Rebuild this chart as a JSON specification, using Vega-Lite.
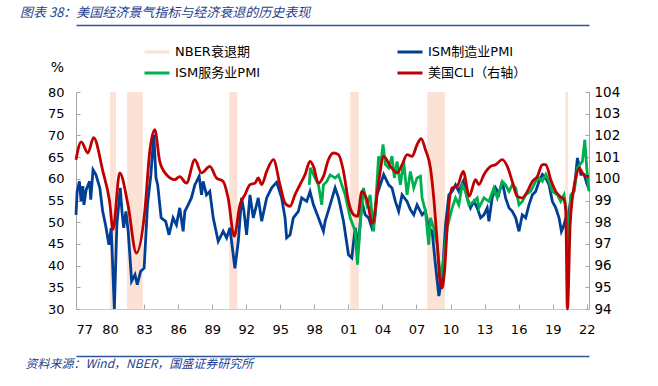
{
  "$schema": "https://vega.github.io/schema/vega-lite/v6.json",
  "width": 513,
  "height": 217,
  "autosize": {"type": "none"},
  "padding": {"left": 76, "top": 92, "right": 69, "bottom": 77},
  "background": "white",
  "config": {
    "view": {"stroke": null},
    "axis": {"grid": false, "labelFont": "DejaVu Sans", "labelFontSize": 13, "labelColor": "#000000", "domainColor": "#a6a6a6", "tickColor": "#a6a6a6", "titleFontWeight": "normal", "labelOverlap": false, "format": "d"},
    "axisX": {"domainColor": "#e3c3b0", "tickSize": -5, "labelPadding": 19, "zindex": 1, "tickCount": 30},
    "axisLeft": {"tickSize": -4, "labelPadding": 16, "tickCount": 20},
    "axisRight": {"tickSize": -4, "labelPadding": 9, "tickCount": 20}
  },
  "title": {
    "text": "图表 38：美国经济景气指标与经济衰退的历史表现",
    "anchor": "start", "frame": "group", "orient": "top",
    "dx": -56, "dy": -5, "offset": 0,
    "font": "Noto Sans CJK SC", "fontSize": 13, "fontStyle": "italic", "fontWeight": "normal", "color": "#1d3f8f"
  },
  "datasets": {
    "rec": [
      {"start": 1980.0, "end": 1980.52, "s": "NBER衰退期"},
      {"start": 1981.5, "end": 1982.88, "s": "NBER衰退期"},
      {"start": 1990.5, "end": 1991.22, "s": "NBER衰退期"},
      {"start": 2001.16, "end": 2001.92, "s": "NBER衰退期"},
      {"start": 2007.95, "end": 2009.5, "s": "NBER衰退期"},
      {"start": 2020.12, "end": 2020.36, "s": "NBER衰退期"}
    ],
    "mfg": [
      {"t": 1977.0, "v": 51.7}, {"t": 1977.1, "v": 57.1}, {"t": 1977.3, "v": 59.4}, {"t": 1977.45, "v": 54.8},
      {"t": 1977.6, "v": 58.3}, {"t": 1977.7, "v": 54.0}, {"t": 1977.9, "v": 57.5}, {"t": 1978.2, "v": 59.4},
      {"t": 1978.3, "v": 55.2}, {"t": 1978.5, "v": 62.1}, {"t": 1978.75, "v": 61.0}, {"t": 1979.1, "v": 57.9},
      {"t": 1979.35, "v": 52.5}, {"t": 1979.6, "v": 49.4}, {"t": 1979.9, "v": 44.8}, {"t": 1980.1, "v": 48.7},
      {"t": 1980.38, "v": 30.0}, {"t": 1980.6, "v": 49.4}, {"t": 1980.9, "v": 57.9}, {"t": 1981.05, "v": 52.5},
      {"t": 1981.2, "v": 48.7}, {"t": 1981.4, "v": 52.5}, {"t": 1981.6, "v": 47.9}, {"t": 1981.9, "v": 36.4},
      {"t": 1982.2, "v": 37.9}, {"t": 1982.4, "v": 35.6}, {"t": 1982.7, "v": 38.7}, {"t": 1983.0, "v": 39.4},
      {"t": 1983.3, "v": 54.0}, {"t": 1983.6, "v": 61.0}, {"t": 1983.85, "v": 70.2}, {"t": 1984.05, "v": 60.2},
      {"t": 1984.2, "v": 58.6}, {"t": 1984.5, "v": 51.0}, {"t": 1984.9, "v": 50.2}, {"t": 1985.2, "v": 47.1},
      {"t": 1985.55, "v": 51.0}, {"t": 1985.85, "v": 49.4}, {"t": 1986.14, "v": 53.3}, {"t": 1986.44, "v": 47.9},
      {"t": 1986.59, "v": 52.5}, {"t": 1986.88, "v": 54.0}, {"t": 1987.17, "v": 55.6}, {"t": 1987.47, "v": 58.6},
      {"t": 1987.85, "v": 60.6}, {"t": 1988.06, "v": 56.3}, {"t": 1988.2, "v": 59.4}, {"t": 1988.5, "v": 56.3},
      {"t": 1988.79, "v": 57.1}, {"t": 1989.09, "v": 51.0}, {"t": 1989.53, "v": 45.6}, {"t": 1989.97, "v": 47.9},
      {"t": 1990.27, "v": 46.4}, {"t": 1990.56, "v": 48.7}, {"t": 1991.0, "v": 39.4}, {"t": 1991.3, "v": 45.6},
      {"t": 1991.59, "v": 55.6}, {"t": 1991.8, "v": 52.5}, {"t": 1992.03, "v": 47.1}, {"t": 1992.33, "v": 56.3},
      {"t": 1992.62, "v": 51.0}, {"t": 1993.06, "v": 55.6}, {"t": 1993.36, "v": 50.2}, {"t": 1993.8, "v": 55.6},
      {"t": 1994.24, "v": 57.9}, {"t": 1994.68, "v": 59.2}, {"t": 1995.12, "v": 55.6}, {"t": 1995.42, "v": 51.0},
      {"t": 1995.56, "v": 46.4}, {"t": 1995.86, "v": 47.1}, {"t": 1996.15, "v": 51.0}, {"t": 1996.59, "v": 52.5},
      {"t": 1996.89, "v": 55.6}, {"t": 1997.33, "v": 54.8}, {"t": 1997.62, "v": 57.1}, {"t": 1997.92, "v": 54.0},
      {"t": 1998.36, "v": 51.0}, {"t": 1998.8, "v": 47.9}, {"t": 1998.95, "v": 50.2}, {"t": 1999.39, "v": 54.0},
      {"t": 1999.83, "v": 57.9}, {"t": 2000.13, "v": 55.6}, {"t": 2000.57, "v": 50.2}, {"t": 2001.01, "v": 42.5},
      {"t": 2001.3, "v": 41.8}, {"t": 2001.6, "v": 48.7}, {"t": 2001.89, "v": 44.8}, {"t": 2002.19, "v": 54.8},
      {"t": 2002.48, "v": 51.7}, {"t": 2002.78, "v": 51.0}, {"t": 2003.07, "v": 48.7}, {"t": 2003.3, "v": 50.2},
      {"t": 2003.52, "v": 56.3}, {"t": 2004.11, "v": 61.0}, {"t": 2004.55, "v": 58.6}, {"t": 2004.84, "v": 57.9},
      {"t": 2005.14, "v": 54.8}, {"t": 2005.43, "v": 52.5}, {"t": 2005.73, "v": 56.3}, {"t": 2006.17, "v": 54.8},
      {"t": 2006.46, "v": 52.9}, {"t": 2006.76, "v": 51.7}, {"t": 2007.05, "v": 54.0}, {"t": 2007.5, "v": 51.7},
      {"t": 2007.79, "v": 52.5}, {"t": 2008.08, "v": 48.7}, {"t": 2008.38, "v": 47.9}, {"t": 2008.67, "v": 40.2},
      {"t": 2008.97, "v": 33.0}, {"t": 2009.26, "v": 37.1}, {"t": 2009.56, "v": 49.4}, {"t": 2009.85, "v": 56.3},
      {"t": 2010.14, "v": 57.1}, {"t": 2010.44, "v": 58.6}, {"t": 2010.73, "v": 57.1}, {"t": 2011.12, "v": 59.4},
      {"t": 2011.47, "v": 55.6}, {"t": 2011.76, "v": 53.3}, {"t": 2012.06, "v": 54.8}, {"t": 2012.35, "v": 53.3},
      {"t": 2012.65, "v": 51.0}, {"t": 2012.94, "v": 51.7}, {"t": 2013.23, "v": 53.3}, {"t": 2013.38, "v": 50.2},
      {"t": 2013.67, "v": 55.6}, {"t": 2013.97, "v": 57.9}, {"t": 2014.26, "v": 56.5}, {"t": 2014.56, "v": 59.4},
      {"t": 2014.85, "v": 55.6}, {"t": 2015.15, "v": 53.3}, {"t": 2015.44, "v": 52.5}, {"t": 2015.74, "v": 51.0},
      {"t": 2016.03, "v": 47.9}, {"t": 2016.32, "v": 51.7}, {"t": 2016.62, "v": 51.0}, {"t": 2016.91, "v": 54.0},
      {"t": 2017.21, "v": 56.3}, {"t": 2017.5, "v": 57.1}, {"t": 2017.8, "v": 59.4}, {"t": 2018.09, "v": 61.0},
      {"t": 2018.39, "v": 60.2}, {"t": 2018.68, "v": 58.6}, {"t": 2018.97, "v": 54.8}, {"t": 2019.27, "v": 53.3},
      {"t": 2019.56, "v": 51.0}, {"t": 2019.77, "v": 47.9}, {"t": 2020.0, "v": 49.4}, {"t": 2020.15, "v": 51.0},
      {"t": 2020.3, "v": 43.0}, {"t": 2020.45, "v": 52.6}, {"t": 2020.6, "v": 55.6}, {"t": 2020.9, "v": 57.5},
      {"t": 2021.18, "v": 64.8}, {"t": 2021.48, "v": 61.0}, {"t": 2021.77, "v": 61.0}, {"t": 2022.0, "v": 59.0},
      {"t": 2022.2, "v": 57.5}
    ],
    "svc": [
      {"t": 1997.55, "v": 58.6}, {"t": 1997.65, "v": 62.5}, {"t": 1998.06, "v": 60.2}, {"t": 1998.36, "v": 58.6},
      {"t": 1998.65, "v": 54.0}, {"t": 1998.8, "v": 58.6}, {"t": 1999.1, "v": 59.4}, {"t": 1999.39, "v": 60.9},
      {"t": 1999.83, "v": 60.2}, {"t": 2000.13, "v": 60.9}, {"t": 2000.42, "v": 58.6}, {"t": 2000.72, "v": 56.3},
      {"t": 2001.16, "v": 51.0}, {"t": 2001.6, "v": 47.9}, {"t": 2001.8, "v": 40.2}, {"t": 2002.04, "v": 49.4},
      {"t": 2002.33, "v": 57.9}, {"t": 2002.63, "v": 54.0}, {"t": 2002.92, "v": 56.3}, {"t": 2003.22, "v": 47.9},
      {"t": 2003.51, "v": 58.6}, {"t": 2003.66, "v": 65.2}, {"t": 2003.81, "v": 62.5}, {"t": 2004.05, "v": 67.9},
      {"t": 2004.26, "v": 63.3}, {"t": 2004.55, "v": 62.5}, {"t": 2004.84, "v": 65.2}, {"t": 2005.05, "v": 60.2},
      {"t": 2005.29, "v": 64.0}, {"t": 2005.58, "v": 58.6}, {"t": 2005.87, "v": 64.0}, {"t": 2006.17, "v": 56.3},
      {"t": 2006.46, "v": 61.7}, {"t": 2006.76, "v": 57.9}, {"t": 2007.05, "v": 60.2}, {"t": 2007.35, "v": 60.6},
      {"t": 2007.49, "v": 55.6}, {"t": 2007.79, "v": 52.5}, {"t": 2008.08, "v": 44.8}, {"t": 2008.23, "v": 51.0},
      {"t": 2008.52, "v": 48.7}, {"t": 2008.82, "v": 44.8}, {"t": 2009.11, "v": 37.1}, {"t": 2009.41, "v": 41.8},
      {"t": 2009.7, "v": 48.7}, {"t": 2010.14, "v": 53.3}, {"t": 2010.44, "v": 55.6}, {"t": 2010.73, "v": 54.0},
      {"t": 2011.03, "v": 58.6}, {"t": 2011.32, "v": 57.1}, {"t": 2011.62, "v": 54.0}, {"t": 2012.06, "v": 54.8},
      {"t": 2012.35, "v": 55.6}, {"t": 2012.5, "v": 53.3}, {"t": 2012.94, "v": 55.6}, {"t": 2013.38, "v": 54.8},
      {"t": 2013.82, "v": 57.9}, {"t": 2014.12, "v": 55.6}, {"t": 2014.56, "v": 59.4}, {"t": 2014.85, "v": 58.6},
      {"t": 2015.15, "v": 57.1}, {"t": 2015.44, "v": 58.6}, {"t": 2015.74, "v": 57.9}, {"t": 2016.03, "v": 54.0},
      {"t": 2016.32, "v": 54.8}, {"t": 2016.62, "v": 56.3}, {"t": 2017.06, "v": 57.1}, {"t": 2017.5, "v": 59.4},
      {"t": 2017.8, "v": 60.2}, {"t": 2018.09, "v": 59.4}, {"t": 2018.39, "v": 61.0}, {"t": 2018.68, "v": 59.4},
      {"t": 2018.97, "v": 57.1}, {"t": 2019.42, "v": 56.3}, {"t": 2019.71, "v": 54.8}, {"t": 2020.0, "v": 56.3},
      {"t": 2020.21, "v": 52.5}, {"t": 2020.3, "v": 42.0}, {"t": 2020.6, "v": 56.3}, {"t": 2020.89, "v": 57.1},
      {"t": 2021.18, "v": 62.5}, {"t": 2021.62, "v": 64.0}, {"t": 2021.83, "v": 69.0}, {"t": 2022.0, "v": 62.5},
      {"t": 2022.2, "v": 57.1}
    ],
    "cli": [
      {"t": 1977.0, "v": 100.88}, {"t": 1977.46, "v": 101.7}, {"t": 1978.05, "v": 101.19}, {"t": 1978.55, "v": 101.9},
      {"t": 1979.37, "v": 100.34}, {"t": 1979.96, "v": 98.96}, {"t": 1980.26, "v": 97.66}, {"t": 1980.85, "v": 100.27},
      {"t": 1981.58, "v": 98.8}, {"t": 1982.32, "v": 96.58}, {"t": 1983.06, "v": 98.5}, {"t": 1983.5, "v": 101.27},
      {"t": 1983.94, "v": 102.26}, {"t": 1984.38, "v": 100.8}, {"t": 1984.97, "v": 100.19}, {"t": 1985.7, "v": 99.96},
      {"t": 1986.14, "v": 100.1}, {"t": 1986.73, "v": 99.8}, {"t": 1987.47, "v": 100.88}, {"t": 1988.06, "v": 100.27},
      {"t": 1988.79, "v": 100.57}, {"t": 1989.38, "v": 100.04}, {"t": 1989.97, "v": 99.88}, {"t": 1990.41, "v": 99.1},
      {"t": 1990.94, "v": 97.35}, {"t": 1991.44, "v": 98.8}, {"t": 1991.89, "v": 99.27}, {"t": 1992.33, "v": 99.73},
      {"t": 1992.77, "v": 99.8}, {"t": 1993.06, "v": 100.04}, {"t": 1993.36, "v": 99.73}, {"t": 1993.8, "v": 100.34},
      {"t": 1994.4, "v": 100.88}, {"t": 1994.97, "v": 99.73}, {"t": 1995.42, "v": 98.88}, {"t": 1995.86, "v": 98.73},
      {"t": 1996.3, "v": 99.27}, {"t": 1996.74, "v": 99.73}, {"t": 1997.18, "v": 100.19}, {"t": 1997.62, "v": 100.8},
      {"t": 1997.92, "v": 100.57}, {"t": 1998.36, "v": 99.8}, {"t": 1998.8, "v": 100.11}, {"t": 1999.24, "v": 100.88},
      {"t": 1999.68, "v": 101.19}, {"t": 2000.13, "v": 101.11}, {"t": 2000.57, "v": 100.34}, {"t": 2001.01, "v": 98.96},
      {"t": 2001.45, "v": 98.35}, {"t": 2001.8, "v": 98.27}, {"t": 2002.19, "v": 99.42}, {"t": 2002.63, "v": 99.04},
      {"t": 2003.12, "v": 97.95}, {"t": 2003.67, "v": 99.88}, {"t": 2004.11, "v": 101.03}, {"t": 2004.7, "v": 100.57},
      {"t": 2005.29, "v": 100.27}, {"t": 2005.73, "v": 100.65}, {"t": 2006.17, "v": 101.11}, {"t": 2006.61, "v": 101.03},
      {"t": 2007.05, "v": 101.57}, {"t": 2007.41, "v": 101.85}, {"t": 2007.79, "v": 101.34}, {"t": 2008.23, "v": 100.5},
      {"t": 2008.52, "v": 99.12}, {"t": 2008.82, "v": 97.12}, {"t": 2009.11, "v": 95.12}, {"t": 2009.26, "v": 94.97},
      {"t": 2009.47, "v": 95.74}, {"t": 2009.76, "v": 98.2}, {"t": 2010.14, "v": 99.58}, {"t": 2010.59, "v": 99.65},
      {"t": 2011.12, "v": 100.34}, {"t": 2011.65, "v": 99.2}, {"t": 2012.2, "v": 99.96}, {"t": 2012.5, "v": 99.73},
      {"t": 2012.94, "v": 100.19}, {"t": 2013.53, "v": 100.57}, {"t": 2013.97, "v": 100.65}, {"t": 2014.56, "v": 100.88},
      {"t": 2015.0, "v": 100.57}, {"t": 2015.44, "v": 99.88}, {"t": 2015.88, "v": 99.19}, {"t": 2016.32, "v": 99.12},
      {"t": 2016.77, "v": 99.42}, {"t": 2017.21, "v": 99.88}, {"t": 2017.65, "v": 100.11}, {"t": 2018.09, "v": 100.65},
      {"t": 2018.39, "v": 100.65}, {"t": 2018.83, "v": 99.96}, {"t": 2019.27, "v": 99.42}, {"t": 2019.65, "v": 99.19},
      {"t": 2020.0, "v": 99.04}, {"t": 2020.15, "v": 98.5}, {"t": 2020.3, "v": 94.0}, {"t": 2020.54, "v": 97.89},
      {"t": 2020.74, "v": 99.12}, {"t": 2021.03, "v": 100.04}, {"t": 2021.33, "v": 100.5}, {"t": 2021.62, "v": 100.27},
      {"t": 2021.92, "v": 100.11}, {"t": 2022.2, "v": 100.11}
    ]
  },
  "layer": [
    {
      "layer": [
        {
          "data": {"name": "rec"},
          "mark": {"type": "rect", "opacity": 1},
          "encoding": {
            "x": {"field": "start", "type": "quantitative", "scale": {"domain": [1977, 2022.2], "nice": false, "zero": false},
                  "axis": {"values": [1977, 1980, 1983, 1986, 1989, 1992, 1995, 1998, 2001, 2004, 2007, 2010, 2013, 2016, 2019, 2022], "tickCount": 30,
                           "labelExpr": "substring(toString(datum.value), 2, 4)", "labelOverlap": false,
                           "title": "资料来源：Wind，NBER，国盛证券研究所", "titleX": -51, "titleY": 54, "titleAlign": "left", "titleAnchor": "start", "titleBaseline": "middle",
                           "titleFont": "Noto Sans CJK SC", "titleFontSize": 12, "titleFontStyle": "italic", "titleFontWeight": "normal", "titleColor": "#1d3f8f"}},
            "x2": {"field": "end"},
            "color": {"field": "s", "type": "nominal",
                      "scale": {"domain": ["NBER衰退期", "ISM制造业PMI", "ISM服务业PMI", "美国CLI（右轴）"], "range": ["#fbe2d5", "#003f96", "#00b050", "#c00000"]},
                      "legend": {"orient": "none", "legendX": 67, "legendY": -54, "columns": 2, "direction": "horizontal", "columnPadding": 130, "rowPadding": 0,
                                 "title": null, "padding": 0, "symbolType": "stroke", "symbolSize": 625, "symbolStrokeWidth": 3,
                                 "labelFont": "DejaVu Sans, Noto Sans CJK SC", "labelFontSize": 13, "labelColor": "#000000", "labelOffset": 4, "labelLimit": 300,
                                 "encode": {"symbols": {"update": {
                                   "strokeWidth": {"signal": "datum.value === 'NBER衰退期' ? 8 : 3"},
                                   "stroke": {"signal": "scale('color', datum.value)"},
                                   "fill": {"value": "transparent"},
                                   "opacity": {"value": 1}}}}}}
          }
        },
        {
          "data": {"name": "mfg"},
          "mark": {"type": "line", "strokeWidth": 2.8},
          "encoding": {
            "x": {"field": "t", "type": "quantitative"},
            "y": {"field": "v", "type": "quantitative", "scale": {"domain": [30, 80], "nice": false, "zero": false},
                  "axis": {"orient": "left", "values": [30, 35, 40, 45, 50, 55, 60, 65, 70, 75, 80], "tickCount": 20, "format": "d", "title": "%", "titleAngle": 0, "titleX": -19, "titleY": -25,
                           "titleAlign": "center", "titleBaseline": "middle", "titleFont": "DejaVu Sans", "titleFontSize": 14, "titleColor": "#000000"}},
            "color": {"datum": "ISM制造业PMI"}
          }
        },
        {
          "data": {"name": "svc"},
          "mark": {"type": "line", "strokeWidth": 2.8},
          "encoding": {
            "x": {"field": "t", "type": "quantitative"},
            "y": {"field": "v", "type": "quantitative"},
            "color": {"datum": "ISM服务业PMI"}
          }
        }
      ]
    },
    {
      "data": {"name": "cli"},
      "mark": {"type": "line", "strokeWidth": 2.8, "interpolate": "monotone"},
      "encoding": {
        "x": {"field": "t", "type": "quantitative", "scale": {"domain": [1977, 2022.2], "nice": false, "zero": false},
              "axis": {"orient": "top", "offset": 67, "labels": false, "ticks": false, "title": null, "domainColor": "#2f5597", "domainWidth": 1.5}},
        "y": {"field": "v", "type": "quantitative", "scale": {"domain": [94, 104], "nice": false, "zero": false},
              "axis": {"orient": "right", "values": [94, 95, 96, 97, 98, 99, 100, 101, 102, 103, 104], "tickCount": 20, "format": "d", "title": null, "labelFontSize": 13.5}},
        "color": {"datum": "美国CLI（右轴）"}
      }
    },
    {
      "data": {"values": [{"k": 1}]},
      "mark": {"type": "rule", "opacity": 0},
      "encoding": {
        "x": {"datum": 2000, "type": "quantitative", "scale": {"domain": [1977, 2022.2], "nice": false, "zero": false},
              "axis": {"orient": "bottom", "offset": 47, "labels": false, "ticks": false, "title": null, "domainColor": "#2f5597", "domainWidth": 1.5}}
      }
    }
  ],
  "resolve": {"scale": {"y": "independent", "x": "independent"}}
}
